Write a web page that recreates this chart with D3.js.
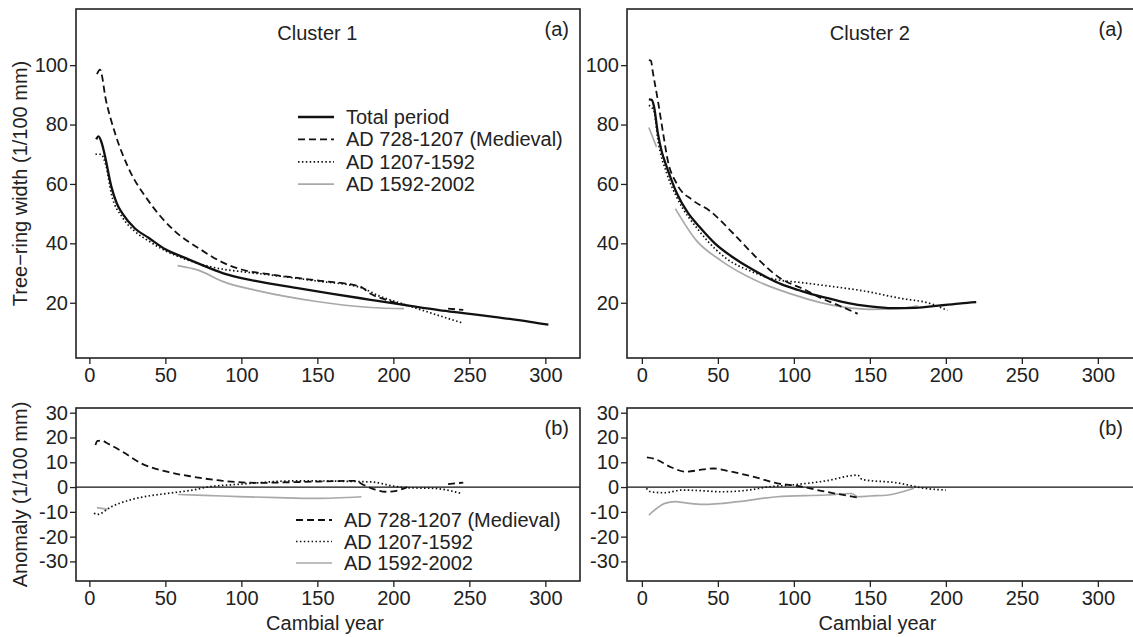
<!DOCTYPE html>
<html>
<head>
<meta charset="utf-8">
<script src="https://cdn.jsdelivr.net/npm/d3@7"></script>
<style>
  body { margin: 0; background: #fff; }
  svg { display: block; font-family: "Liberation Sans", Arial, sans-serif; }
</style>
</head>
<body>
<div id="chart"></div>
<script>
// Tree-ring width curves and anomalies per cluster
// points are [cambial year, value]; null breaks a line

const cambialTicks = [0, 50, 100, 150, 200, 250, 300];
const widthTicks = [20, 40, 60, 80, 100];
const anomalyTicks = [-30, -20, -10, 0, 10, 20, 30];
const clusterNames = ['Cluster 1', 'Cluster 2'];
const periodLabels = ['Total period', 'AD 728-1207 (Medieval)', 'AD 1207-1592', 'AD 1592-2002'];

// Cluster 1 — ring width
const c1Total = [[4.5,75],[6,76],[8,74],[10,70],[14.5,59],[18,53.5],[21.8,50],[30,45],[38.9,41.9],[50,38],[63,35.1],[75,32.5],[87.6,30],[110,27.3],[136,25],[160,23],[185,21],[209,19.1],[230,17.5],[246,16.5],[270,15],[290,13.6],[302,12.6]];
const c1Medieval = [[5,97],[7,98.5],[10.9,88.2],[17,76.9],[25.5,65.6],[38.9,54.3],[56,44.2],[73,38],[87.6,33.6],[100,31.2],[120,29.5],[150,27.5],[178,25.5],[185,23],[195,21],[205,19.5],[210,19],null,[236,18],[246,17.6]];
const c1Early = [[4,70],[7.5,70],[11,66],[14.5,56.6],[21.8,48.7],[30,44],[39,40.8],[50,37.5],[63,34.7],[87.6,31.3],[100,30.5],[120,29.3],[150,27.3],[178,25.2],[192,22],[207,19.5],[225,16.5],[246,13.1]];
const c1Late = [[58,32.5],[72,30.9],[87.6,27.2],[112,23.9],[148.5,20.5],[185,18.4],[207,18]];

// Cluster 1 — anomaly
const c1MedievalAnom = [[4,17],[5.3,18.6],[8,18.8],[12,17.6],[21.9,14.2],[34,9.6],[51,6.2],[68,4.2],[87.6,2.5],[112,1.7],[136,2],[175,2.5],[180,1],[188,-1],[195,-1.9],[202,-1.5],[209,0],null,[236,1.2],[246,1.8]];
const c1EarlyAnom = [[3,-10.6],[5.3,-11],[14.5,-7.9],[26.7,-5.2],[39,-3.6],[51,-2.6],[68,-1.2],[77.8,0],[100,1.2],[136,2.5],[185,2.1],[200,0.4],[209,-0.3],[226,-0.5],[245,-2.6]];
const c1LateAnom = [[5,-8.3],[12,-9],null,[58.4,-3],[87.6,-3.6],[124,-4.3],[148.6,-4.6],[179,-3.9]];

// Cluster 2 — ring width
const c2Total = [[4.6,88.5],[6.5,88.3],[8,86],[10.5,77.1],[13,71],[16.4,65.7],[23,56.9],[30,50.5],[38,45.5],[48,40],[59.6,35.4],[70,32],[82,28.6],[92,26.2],[103.5,24.2],[113,22.7],[123,21.5],[135,20],[150,18.8],[165,18.2],[180,18.3],[195,19],[210,19.8],[220,20.2]];
const c2Medieval = [[4.6,101.7],[6,101.5],[7,98.3],[10.5,88.2],[14,77],[17,68],[23,60],[33.5,54.5],[44.5,51],[60,43.4],[75,35.4],[90,28.6],[108,24.2],[116.6,21.9],[130,19],[142,16.3]];
const c2Early = [[4.6,86.5],[8,84.5],[10.5,75],[16.4,63.5],[23,55.5],[38,44],[59.6,33.5],[70,31],[82,28.6],[92,27.5],[103,26.9],[125,25.5],[144.5,24.1],[170,21.5],[190.6,19.6],[201,17.4]];
const c2Late = [[4.6,79],[9.6,72.5],null,[22,51.7],[35.8,41],[52,34.2],[75,27.5],[98,23],[133,18.5],[150,17.8],[168,18],[181.5,19]];

// Cluster 2 — anomaly
const c2MedievalAnom = [[3.3,12],[7.8,11.5],[19.6,7.9],[28.8,6.2],[40.4,7.1],[47,7.5],[59,6.2],[75,3.9],[89,1.5],[103,0.4],[121,-1.9],[142,-4.2]];
const c2EarlyAnom = [[3,-0.5],[5.7,-1.9],[15,-2.3],[26.5,-1.2],[40,-1.5],[52,-1.9],[70.5,-1.2],[82,0],[98,0.8],[121,2.5],[142,4.8],[145,3],[168,1.7],[186,-0.5],[200,-1.2]];
const c2LateAnom = [[4.6,-11.3],[10,-8.5],[15,-6.6],[22,-5.9],[28.8,-6.4],[40.4,-7],[63.5,-5.9],[89,-3.9],[121,-3.2],[138,-2.6],[142,-3.9],[150,-3.6],[162,-3.2],[179,-0.5]];

// ---- layout / styles ----
const W = 1133, H = 637;
const FONT = 20;
const xDomain = [-8.8, 322.8];

const styles = {
    late:     { stroke: '#a8a8a8', width: 1.7, dash: null },
    early:    { stroke: '#111', width: 1.7, dash: '1.5,2.4' },
    medieval: { stroke: '#111', width: 1.8, dash: '7,4' },
    total:    { stroke: '#111', width: 2.3, dash: null }
};
const drawOrder = ['late', 'early', 'medieval', 'total'];

const columns = [
    { left: 76, right: 580, range: [76, 580], title: clusterNames[0],
      width: { total: c1Total, medieval: c1Medieval, early: c1Early, late: c1Late },
      anom: { medieval: c1MedievalAnom, early: c1EarlyAnom, late: c1LateAnom } },
    { left: 627, right: 1134, range: [628.5, 1132.5], title: clusterNames[1],
      width: { total: c2Total, medieval: c2Medieval, early: c2Early, late: c2Late },
      anom: { medieval: c2MedievalAnom, early: c2EarlyAnom, late: c2LateAnom } }
];
const rows = [
    { key: 'width', top: 9, bottom: 358, domain: [1.4, 118.9], ticks: widthTicks, tag: '(a)' },
    { key: 'anom', top: 408, bottom: 581, domain: [-37.9, 31.9], ticks: anomalyTicks, tag: '(b)' }
];

const svg = d3.select('#chart').append('svg')
    .attr('width', W).attr('height', H);
svg.append('rect').attr('width', W).attr('height', H).attr('fill', '#fff');

const defs = svg.append('defs');

columns.forEach((col, ci) => {
    const x = d3.scaleLinear().domain(xDomain).range(col.range);

    rows.forEach((row, ri) => {
        const y = d3.scaleLinear().domain(row.domain).range([row.bottom, row.top]);
        const g = svg.append('g');
        const clipId = `clip-${ci}-${ri}`;
        defs.append('clipPath').attr('id', clipId).append('rect')
            .attr('x', col.left).attr('y', row.top)
            .attr('width', col.right - col.left).attr('height', row.bottom - row.top);

        // axes (plain hyphen for negatives, like the original)
        const yAxis = g.append('g').attr('transform', `translate(${col.left},0)`)
            .call(d3.axisLeft(y).tickValues(row.ticks).tickSize(6).tickPadding(2).tickFormat(d => String(d)));
        const xAxis = g.append('g').attr('transform', `translate(0,${row.bottom})`)
            .call(d3.axisBottom(x).tickValues(cambialTicks).tickSize(6).tickPadding(4).tickFormat(d => String(d)));
        [xAxis, yAxis].forEach(a => {
            a.select('.domain').remove();
            a.selectAll('line').attr('stroke', '#222').attr('stroke-width', 1.3);
            a.selectAll('text').attr('font-size', FONT).attr('fill', '#222')
                .attr('font-family', '"Liberation Sans", Arial, sans-serif');
        });

        const plot = g.append('g').attr('clip-path', `url(#${clipId})`);

        if (row.key === 'anom') {
            plot.append('line')
                .attr('x1', col.left).attr('x2', col.right)
                .attr('y1', y(0)).attr('y2', y(0))
                .attr('stroke', '#111').attr('stroke-width', 1.3);
        }

        const line = d3.line()
            .defined(d => d !== null)
            .x(d => x(d[0])).y(d => y(d[1]))
            .curve(d3.curveMonotoneX);

        const series = col[row.key];
        drawOrder.forEach(k => {
            if (!series[k]) return;
            const s = styles[k];
            plot.append('path').datum(series[k])
                .attr('d', line)
                .attr('fill', 'none')
                .attr('stroke', s.stroke)
                .attr('stroke-width', s.width)
                .attr('stroke-dasharray', s.dash)
                .attr('stroke-linejoin', 'round');
        });

        // frame
        g.append('rect')
            .attr('x', col.left).attr('y', row.top)
            .attr('width', col.right - col.left).attr('height', row.bottom - row.top)
            .attr('fill', 'none').attr('stroke', '#222').attr('stroke-width', 1.6);

        // panel tag
        g.append('text').attr('x', col.right - 11).attr('y', row.top + 27)
            .attr('text-anchor', 'end').attr('font-size', FONT).attr('fill', '#222')
            .text(row.tag);

        if (ri === 0) {
            g.append('text').attr('x', x(150)).attr('y', row.top + 31)
                .attr('text-anchor', 'middle').attr('font-size', FONT).attr('fill', '#222')
                .text(col.title);
        }
    });

    svg.append('text').attr('x', (col.left + col.right) / 2 - 3).attr('y', 630)
        .attr('text-anchor', 'middle').attr('font-size', FONT).attr('fill', '#222')
        .text('Cambial year');
});

// y titles (left column only)
svg.append('text')
    .attr('transform', `translate(27,${(rows[0].top + rows[0].bottom) / 2}) rotate(-90)`)
    .attr('text-anchor', 'middle').attr('font-size', FONT).attr('fill', '#222')
    .text('Tree\u2212ring width (1/100 mm)');
svg.append('text')
    .attr('transform', `translate(27,${(rows[1].top + rows[1].bottom) / 2}) rotate(-90)`)
    .attr('text-anchor', 'middle').attr('font-size', FONT).attr('fill', '#222')
    .text('Anomaly (1/100 mm)');

// legends (left column)
function legend(keys, labels, x0, yStart, step) {
    const lg = svg.append('g');
    keys.forEach((k, i) => {
        const s = styles[k];
        const yy = yStart + i * step;
        lg.append('line').attr('x1', x0).attr('x2', x0 + 36).attr('y1', yy).attr('y2', yy)
            .attr('stroke', s.stroke).attr('stroke-width', s.width)
            .attr('stroke-dasharray', s.dash);
        lg.append('text').attr('x', x0 + 48).attr('y', yy).attr('dy', '0.35em')
            .attr('font-size', FONT).attr('fill', '#222').text(labels[i]);
    });
}
legend(['total', 'medieval', 'early', 'late'], periodLabels, 298, 117, 22.4);
legend(['medieval', 'early', 'late'], periodLabels.slice(1), 296, 520, 21.5);
</script>
</body>
</html>
